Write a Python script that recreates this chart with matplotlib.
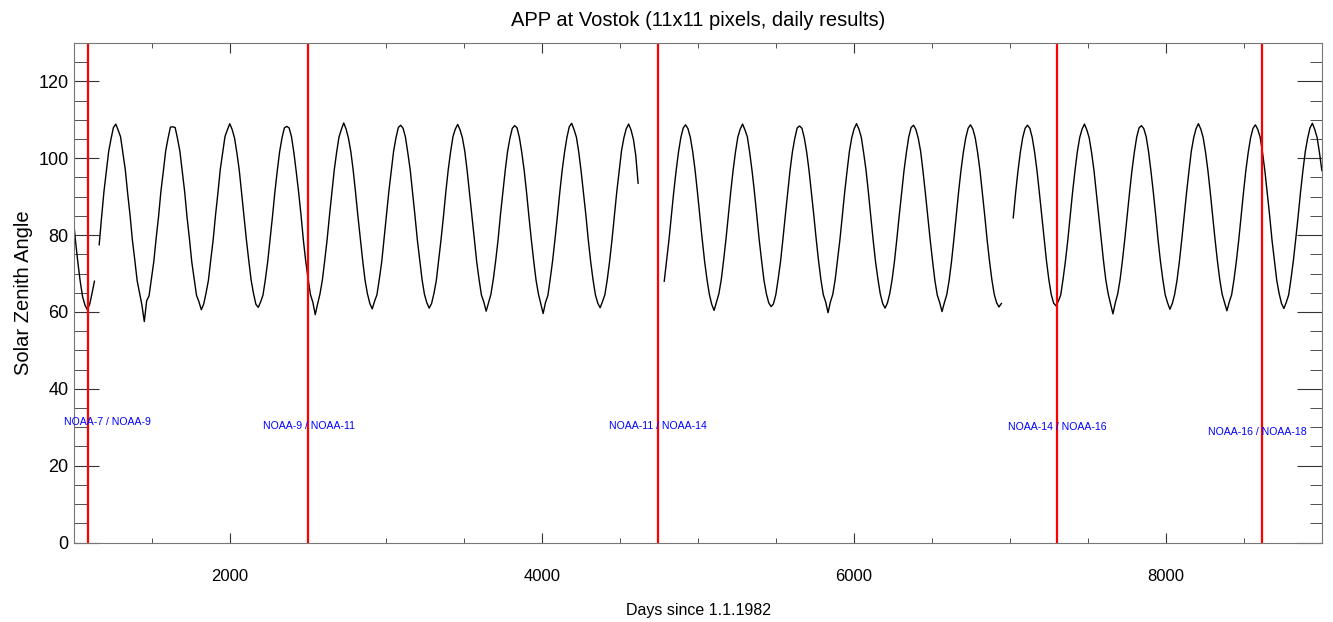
import numpy as np
import matplotlib

matplotlib.use("Agg")
import matplotlib.pyplot as plt
from matplotlib.ticker import MultipleLocator

plt.rcParams["font.family"] = ["Liberation Sans", "DejaVu Sans"]

# sampling grid: half-month (1/24 year) steps
step_days = 365.25 / 24

# solar zenith angle per data segment (gaps around satellite changes)
seg_a_start = 994.06
seg_a = [85.0, 78.6, 73.0, 68.0, 64.0, 61.8, 60.6, 62.0, 64.9, 68.0]

seg_b_start = 1161.47
seg_b = [
    77.5, 84.6, 91.3, 96.5, 101.8, 105.1, 108.0,
    108.9, 107.3, 105.6, 101.3, 97.0, 90.8, 85.2, 78.6, 73.5, 68.1, 64.9, 61.8,
    57.5, 62.9, 64.2, 68.7, 73.1, 79.2, 84.8, 91.4, 96.5, 101.9, 105.2, 108.1,
    108.2, 108.0, 105.1, 101.8, 96.6, 91.3, 84.7, 79.1, 73.0, 68.6, 64.3, 62.7,
    60.6, 62.0, 64.9, 68.2, 73.6, 78.7, 85.2, 90.9, 97.1, 101.4, 105.7, 107.4,
    109.0, 107.5, 105.3, 101.4, 96.9, 90.9, 85.1, 78.8, 73.4, 68.3, 64.8, 62.0,
    61.2, 62.6, 64.4, 68.5, 73.2, 79.0, 84.9, 91.2, 96.7, 101.7, 105.3, 107.9,
    108.3, 107.9, 105.6, 101.5, 96.5, 91.2, 85.3, 78.7, 73.2, 68.6, 64.5, 62.5,
    59.3, 62.1, 64.7, 68.3, 73.4, 78.8, 85.1, 91.0, 96.9, 101.5, 105.5, 107.5,
    109.2, 107.6, 105.2, 101.7, 96.8, 91.0, 84.8, 79.0, 73.3, 68.2, 64.7, 62.2,
    60.8, 62.8, 64.5, 68.6, 73.0, 79.1, 85.0, 91.3, 96.6, 101.8, 105.3, 108.0,
    108.6, 107.8, 105.5, 101.4, 97.0, 91.1, 85.1, 78.8, 73.5, 68.4, 64.6, 62.4,
    61.0, 62.2, 64.8, 68.2, 73.5, 78.9, 84.8, 91.2, 96.9, 101.6, 105.6, 107.6,
    108.8, 107.4, 105.3, 101.8, 96.7, 90.9, 85.0, 79.1, 73.1, 68.5, 64.4, 62.6,
    60.2, 62.4, 64.6, 68.5, 73.3, 78.7, 85.2, 91.0, 96.7, 101.7, 105.2, 107.8,
    108.5, 107.9, 105.4, 101.5, 96.9, 91.2, 84.9, 78.9, 73.4, 68.3, 64.7, 62.1,
    59.6, 62.5, 64.3, 68.7, 73.4, 79.0, 84.9, 91.1, 96.8, 101.5, 105.4, 108.2,
    109.1, 107.5, 105.5, 101.6, 96.6, 91.0, 85.2, 78.8, 73.2, 68.4, 64.5, 62.3,
    61.1, 62.7, 64.5, 68.4, 73.2, 78.8, 85.1, 91.2, 96.5, 101.9, 105.3, 107.7,
    108.9, 107.4, 105.0, 100.8, 93.5,
]

seg_c_start = 4783.53
seg_c = [
    68.0, 73.4, 78.8, 85.0, 91.2, 96.7, 101.6, 105.4, 107.9,
    108.7, 107.7, 105.4, 101.7, 96.9, 91.1, 85.0, 78.9, 73.2, 68.5, 64.6, 62.0,
    60.4, 62.5, 64.7, 68.3, 73.4, 78.9, 85.0, 91.2, 96.8, 101.6, 105.5, 107.6,
    108.9, 107.4, 105.6, 101.5, 96.7, 91.2, 84.9, 78.8, 73.4, 68.3, 64.8, 62.4,
    61.4, 62.1, 64.5, 68.6, 73.2, 79.0, 85.1, 90.9, 96.9, 101.7, 105.2, 107.9,
    108.4, 107.8, 105.3, 101.6, 96.8, 91.0, 85.2, 79.0, 73.3, 68.4, 64.5, 62.6,
    59.8, 62.6, 64.6, 68.4, 73.5, 78.8, 84.9, 91.1, 96.6, 101.8, 105.4, 107.7,
    109.0, 107.6, 105.5, 101.4, 96.9, 91.1, 85.0, 78.7, 73.1, 68.6, 64.7, 62.2,
    61.0, 62.3, 64.8, 68.5, 73.3, 79.1, 85.2, 91.0, 96.8, 101.5, 105.6, 108.0,
    108.6, 107.5, 105.2, 101.8, 96.6, 90.9, 84.8, 78.9, 73.4, 68.2, 64.4, 62.5,
    60.1, 62.4, 64.5, 68.2, 73.1, 78.9, 85.0, 91.3, 96.9, 101.6, 105.3, 107.8,
    108.7, 107.6, 105.3, 101.5, 96.8, 91.0, 85.1, 78.8, 73.3, 68.4, 64.6, 62.4,
    61.3, 62.2,
]

seg_d_start = 7020.72
seg_d = [
    84.5, 91.0, 96.7, 101.6, 105.4, 107.8,
    108.6, 107.8, 105.4, 101.6, 96.8, 91.1, 85.1, 78.9, 73.3, 68.4, 64.6, 62.3,
    61.6, 62.8, 64.4, 68.6, 73.3, 78.8, 85.0, 91.2, 96.7, 101.7, 105.4, 107.6,
    108.9, 107.4, 105.3, 101.5, 96.9, 91.0, 84.9, 79.0, 73.4, 68.3, 64.7, 62.1,
    59.5, 62.4, 64.7, 68.4, 73.4, 79.0, 85.1, 91.1, 96.8, 101.5, 105.5, 107.9,
    108.5, 107.7, 105.6, 101.7, 96.7, 91.2, 85.2, 78.8, 73.2, 68.5, 64.5, 62.4,
    60.7, 62.2, 64.6, 68.3, 73.2, 78.9, 84.9, 91.0, 96.6, 101.8, 105.3, 107.7,
    109.0, 107.6, 105.4, 101.6, 96.8, 91.1, 85.0, 78.9, 73.3, 68.4, 64.6, 62.5,
    60.3, 62.6, 64.5, 68.5, 73.3, 78.8, 85.1, 91.2, 96.9, 101.6, 105.4, 107.8,
    108.7, 107.5, 105.5, 101.5, 96.7, 91.0, 85.1, 78.7, 73.4, 68.2, 64.8, 62.2,
    60.9, 62.5, 64.4, 68.6, 73.4, 79.0, 84.9, 91.1, 96.7, 101.7, 105.2, 107.9,
    109.1, 107.5, 105.4, 101.4, 96.8,
]

# satellite changes
switch_days = [1092, 2502, 4745, 7299, 8617]
switch_labels = ["NOAA-7 / NOAA-9", "NOAA-9 / NOAA-11", "NOAA-11 / NOAA-14",
                 "NOAA-14 / NOAA-16", "NOAA-16 / NOAA-18"]
label_days = [1215, 2506, 4744, 7301, 8583]
label_sza = [31.4, 30.4, 30.4, 30.1, 28.7]

fig = plt.figure(figsize=(13.33, 6.22), dpi=100)
ax = fig.add_axes([74 / 1333, 1 - 542.5 / 622, 1248 / 1333, 499.5 / 622])

for start, vals in [(seg_a_start, seg_a), (seg_b_start, seg_b),
                    (seg_c_start, seg_c), (seg_d_start, seg_d)]:
    days = start + step_days * np.arange(len(vals))
    ax.plot(days, vals, color="black", lw=1.0)

for d in switch_days:
    ax.axvline(d, color="red", lw=1.6)
for d, s, txt in zip(label_days, label_sza, switch_labels):
    ax.text(d, s, txt, color="blue", fontsize=7.6, ha="center", va="center")

ax.set_xlim(1000, 9000)
ax.set_ylim(0, 130)
ax.xaxis.set_major_locator(MultipleLocator(2000))
ax.xaxis.set_minor_locator(MultipleLocator(500))
ax.yaxis.set_major_locator(MultipleLocator(20))
ax.yaxis.set_minor_locator(MultipleLocator(5))
ax.tick_params(axis="x", which="both", direction="in", top=True, colors="#333333",
               labelcolor="black", labelsize=12, pad=19)
ax.tick_params(axis="x", which="major", length=7.5)
ax.tick_params(axis="x", which="minor", length=3.8)
ax.tick_params(axis="y", which="both", direction="in", right=True, colors="#333333",
               labelcolor="black", labelsize=13, pad=4)
ax.tick_params(axis="y", which="major", length=18)
ax.tick_params(axis="y", which="minor", length=9)
for sp in ax.spines.values():
    sp.set_color("#777777")

ax.set_xlabel("Days since 1.1.1982", fontsize=11.5, labelpad=14)
ax.set_ylabel("Solar Zenith Angle", fontsize=14.5, labelpad=4)
fig.text(698 / 1333, 1 - 20 / 622, "APP at Vostok (11x11 pixels, daily results)",
         ha="center", va="center", fontsize=14.5)

fig.savefig("out.png", dpi=100)
